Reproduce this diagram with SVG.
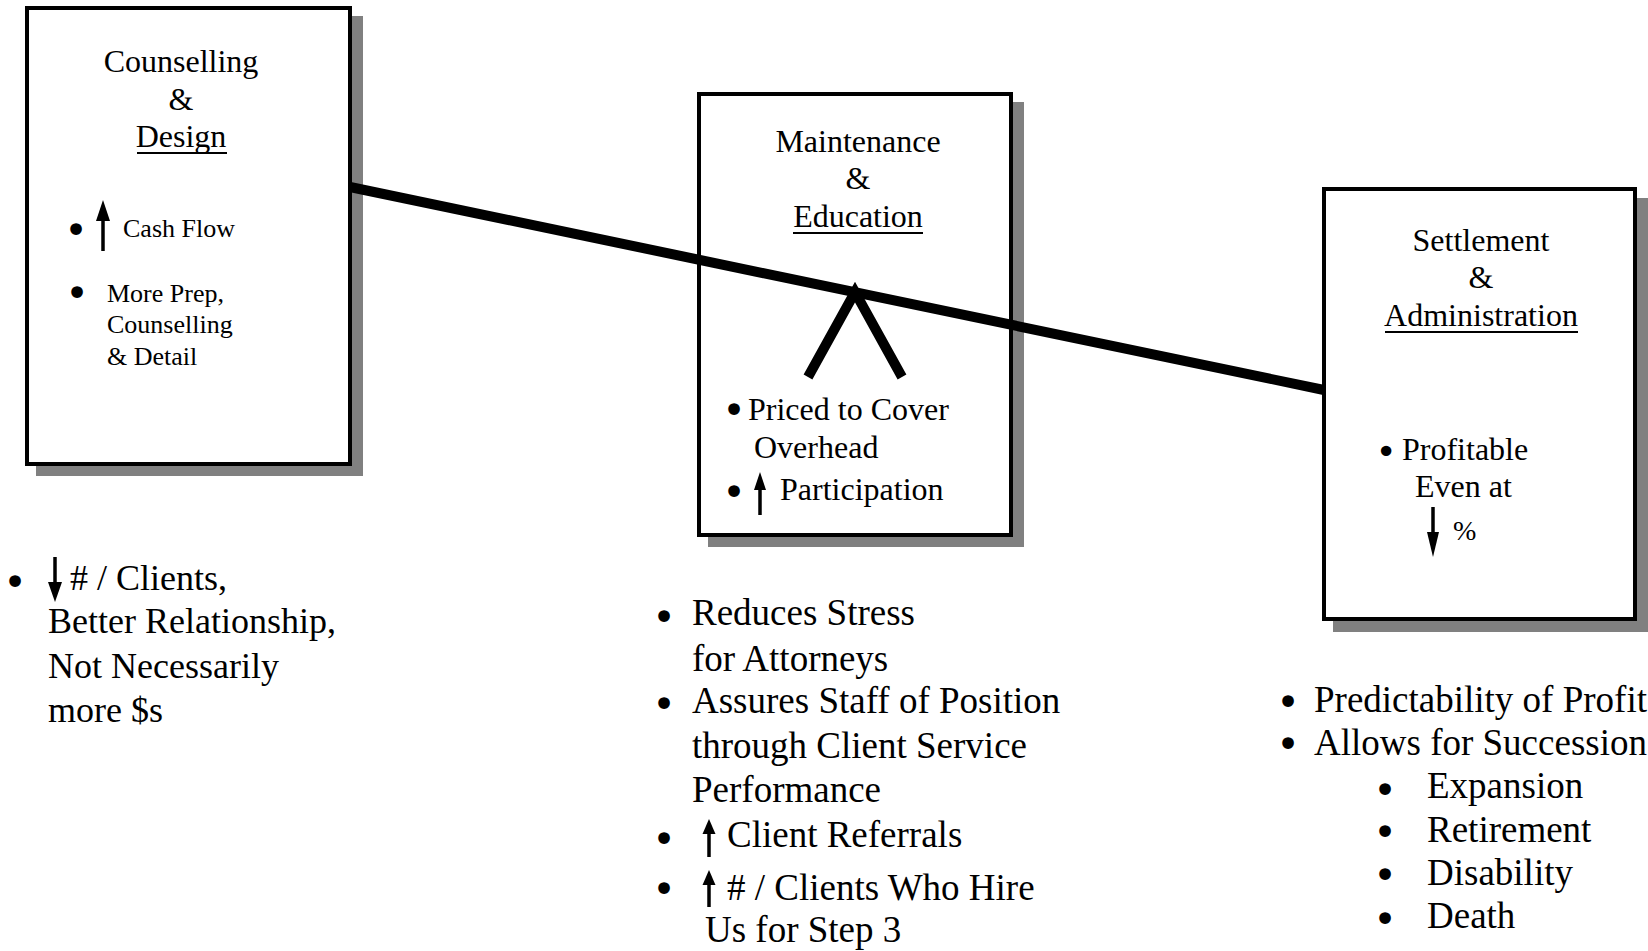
<svg xmlns="http://www.w3.org/2000/svg" width="1648" height="951" viewBox="0 0 1648 951">
<style>
text{font-family:"Liberation Serif","Times New Roman",serif;fill:#000}
.t{font-size:32px;text-anchor:middle}
.b{font-size:32px}
.s{font-size:26px}
.l{font-size:36px}
.r{font-size:37px}
.bu,.bm,.bs{font-family:"DejaVu Sans",sans-serif;text-anchor:middle}
.bu{font-size:40px}
.bm{font-size:40px}
.bs{font-size:36px}
.box{fill:#fff;stroke:#000;stroke-width:4}
.sh{fill:#808080}
.ul{stroke:#000;stroke-width:2}
.shaft{stroke:#000;stroke-width:3.5;fill:none}
.head{fill:#000}
.beam{stroke:#000;stroke-width:10;fill:none}
</style>
<rect width="1648" height="951" fill="#fff"/>

<g id="node-counselling">
<rect class="sh" x="36" y="16" width="327" height="460"/>
<rect class="box" x="27" y="8" width="323" height="456"/>
<text class="t" x="181" y="72">Counselling</text>
<text class="t" x="181" y="110">&amp;</text>
<text class="t" x="181" y="147">Design</text>
<line class="ul" x1="137" y1="153" x2="227" y2="153"/>
<text class="bu" x="76" y="244">•</text>
<path class="shaft" d="M103,251 V216"/>
<path class="head" d="M96,221 L103,200 L110,221 Z"/>
<text class="s" x="123" y="237">Cash Flow</text>
<text class="bu" x="77" y="307">•</text>
<text class="s" x="107" y="302">More Prep,</text>
<text class="s" x="107" y="333">Counselling</text>
<text class="s" x="107" y="365">&amp; Detail</text>
</g>

<g id="node-maintenance">
<rect class="sh" x="708" y="102" width="316" height="445"/>
<rect class="box" x="699" y="94" width="312" height="441"/>
<text class="t" x="858" y="152">Maintenance</text>
<text class="t" x="858" y="189">&amp;</text>
<text class="t" x="858" y="227">Education</text>
<line class="ul" x1="793" y1="233" x2="923" y2="233"/>
<text class="bm" x="734" y="424">•</text>
<text class="b" x="748" y="420">Priced to Cover</text>
<text class="b" x="754" y="458">Overhead</text>
<text class="bm" x="734" y="506">•</text>
<path class="shaft" d="M760,515 V486"/>
<path class="head" d="M754,490 L760,472 L766,490 Z"/>
<text class="b" x="780" y="500">Participation</text>
</g>

<g id="node-settlement">
<rect class="sh" x="1333" y="198" width="315" height="434"/>
<rect class="box" x="1324" y="189" width="311" height="430"/>
<text class="t" x="1481" y="251">Settlement</text>
<text class="t" x="1481" y="288">&amp;</text>
<text class="t" x="1481" y="326">Administration</text>
<line class="ul" x1="1385" y1="332" x2="1578" y2="332"/>
<text class="bs" x="1386" y="464">•</text>
<text class="b" x="1402" y="460">Profitable</text>
<text class="b" x="1415" y="497">Even at</text>
<path class="shaft" d="M1433,507 V536"/>
<path class="head" d="M1427,532 L1433,557 L1439,532 Z"/>
<text x="1453" y="540" style="font-size:28px">%</text>
</g>

<g id="connectors">
<line class="beam" x1="350" y1="187" x2="1324" y2="390"/>
<polyline class="beam" points="808,377 855,292 902,377" stroke-linejoin="miter"/>
</g>

<g id="notes-left">
<text class="bu" x="15" y="596">•</text>
<path class="shaft" d="M55,557 V586"/>
<path class="head" d="M48,582 L55,602 L62,582 Z"/>
<text class="l" x="70" y="590"># / Clients,</text>
<text class="l" x="48" y="633">Better Relationship,</text>
<text class="l" x="48" y="678">Not Necessarily</text>
<text class="l" x="48" y="722">more $s</text>
</g>

<g id="notes-middle">
<text class="bu" x="664" y="631">•</text>
<text class="r" x="692" y="625">Reduces Stress</text>
<text class="r" x="692" y="671">for Attorneys</text>
<text class="bu" x="664" y="718">•</text>
<text class="r" x="692" y="713">Assures Staff of Position</text>
<text class="r" x="692" y="758">through Client Service</text>
<text class="r" x="692" y="802">Performance</text>
<text class="bu" x="664" y="853">•</text>
<path class="shaft" d="M709,857 V830"/>
<path class="head" d="M702.5,834 L709,819 L715.5,834 Z"/>
<text class="r" x="727" y="847">Client Referrals</text>
<text class="bu" x="664" y="903">•</text>
<path class="shaft" d="M709,907 V880"/>
<path class="head" d="M702.5,885 L709,870 L715.5,885 Z"/>
<text class="r" x="727" y="900"># / Clients Who Hire</text>
<text class="r" x="705" y="942">Us for Step 3</text>
</g>

<g id="notes-right">
<text class="bu" x="1288" y="716">•</text>
<text class="r" x="1314" y="712">Predictability of Profit</text>
<text class="bu" x="1288" y="758">•</text>
<text class="r" x="1314" y="755">Allows for Succession</text>
<text class="bu" x="1385" y="804">•</text>
<text class="r" x="1427" y="798">Expansion</text>
<text class="bu" x="1385" y="846">•</text>
<text class="r" x="1427" y="842">Retirement</text>
<text class="bu" x="1385" y="889">•</text>
<text class="r" x="1427" y="885">Disability</text>
<text class="bu" x="1385" y="933">•</text>
<text class="r" x="1427" y="928">Death</text>
</g>
</svg>
